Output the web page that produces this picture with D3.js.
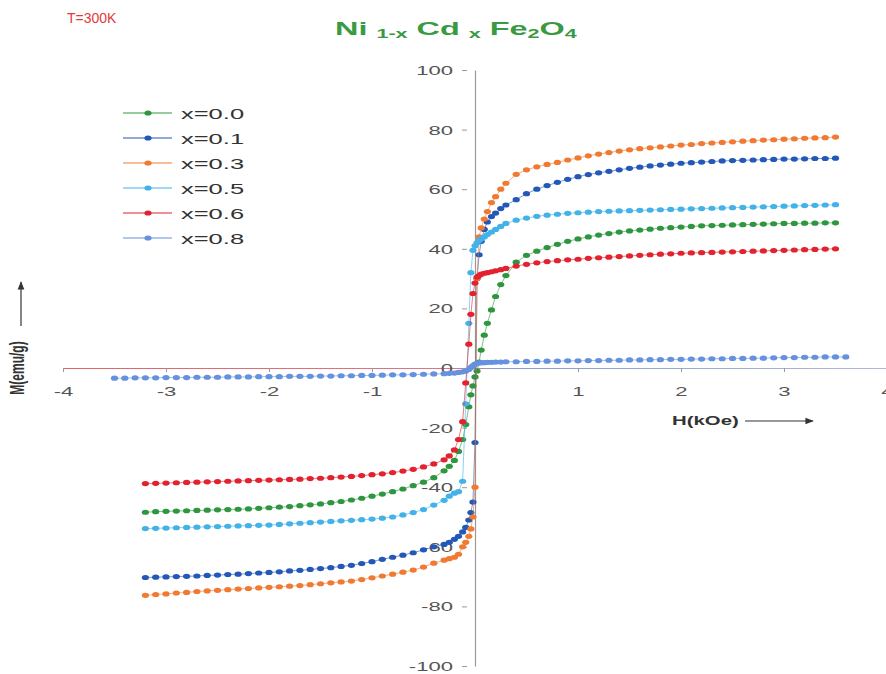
<!DOCTYPE html>
<html>
<head>
<meta charset="utf-8">
<script src="https://cdn.jsdelivr.net/npm/d3@7"></script>
<style>
  body { margin: 0; background: #fff; }
  text { font-family: "Liberation Sans", Arial, sans-serif; }
</style>
</head>
<body>
<div id="chart"></div>
<script>
// applied field H (kOe), shared by every series
const field = [
  -3.5, -3.4, -3.3, -3.2, -3.1, -3.0, -2.9, -2.8, -2.7, -2.6, -2.5, -2.4, -2.3, -2.2, -2.1, -2.0, -1.9,
  -1.8, -1.7, -1.6, -1.5, -1.4, -1.3, -1.2, -1.1, -1.0, -0.9, -0.8, -0.7, -0.6, -0.5, -0.4, -0.3,
  -0.25, -0.2, -0.16, -0.12, -0.09, -0.06, -0.04, -0.02, 0, 0.02, 0.04, 0.06, 0.09, 0.12, 0.16, 0.2, 0.25,
  0.3, 0.4, 0.5, 0.6, 0.7, 0.8, 0.9, 1.0, 1.1, 1.2, 1.3, 1.4, 1.5, 1.6, 1.7, 1.8, 1.9,
  2.0, 2.1, 2.2, 2.3, 2.4, 2.5, 2.6, 2.7, 2.8, 2.9, 3.0, 3.1, 3.2, 3.3, 3.4, 3.5, 3.6
];

// magnetisation M (emu/g) for each Cd content
const mX00 = [
  null, null, null, -48.4, -48.2, -48.1, -48.0, -47.9, -47.8, -47.7, -47.6, -47.5, -47.4, -47.3, -47.1, -46.9, -46.7,
  -46.5, -46.2, -45.9, -45.6, -45.2, -44.8, -44.3, -43.7, -43.0, -42.3, -41.5, -40.6, -39.5, -38.3, -36.8, -34.5,
  -33, -31, -28, -24, -19, -13, -9, -6, -3, -1, 2, 6, 11, 15, 19.5, 24, 28,
  31, 35.5, 37.8, 39.2, 40.4, 41.5, 42.5, 43.3, 44, 44.6, 45.1, 45.6, 46, 46.3, 46.6, 46.9, 47.1,
  47.3, 47.5, 47.7, 47.8, 47.9, 48, 48.1, 48.2, 48.3, 48.4, 48.5, 48.5, 48.6, 48.6, 48.7, 48.7, null
];
const mX01 = [
  null, null, null, -70.3, -70.2, -70.1, -70.0, -69.9, -69.8, -69.6, -69.5, -69.3, -69.2, -69.0, -68.8, -68.6, -68.4,
  -68.1, -67.9, -67.6, -67.3, -67.0, -66.6, -66.2, -65.6, -65.0, -64.2, -63.5, -62.8, -62.0, -61.0, -60.0, -59.2,
  -58.5, -57.5, -56.5, -55, -53.5, -51, -48.5, -45, -25, 30, 38, 42.5, 46.5, 49, 50.8, 52, 53.5,
  54.7, 56.5, 58.5, 60, 61.2, 62.3, 63.3, 64.2, 64.9, 65.5, 66, 66.5, 67, 67.4, 67.8, 68.1, 68.4,
  68.7, 68.9, 69.1, 69.3, 69.5, 69.6, 69.7, 69.8, 69.9, 70, 70.1, 70.1, 70.2, 70.3, 70.3, 70.4, null
];
const mX03 = [
  null, null, null, -76.3, -76.0, -75.8, -75.5, -75.3, -75.0, -74.8, -74.6, -74.4, -74.2, -74.0, -73.8, -73.6, -73.4,
  -73.2, -73.0, -72.7, -72.4, -72.1, -71.8, -71.5, -71.0, -70.4, -69.8, -69.2, -68.5, -67.8, -66.8, -65.5, -64.5,
  -64.0, -63.5, -62.5, -60.0, -58.5, -56.5, -54, -50, -40, 30, 44, 47, 50, 52.5, 55.5, 57.5, 60,
  62, 65, 66.5, 67.5, 68.3, 69, 69.8, 70.5, 71.2, 71.8, 72.3, 72.8, 73.2, 73.6, 73.9, 74.2, 74.5,
  74.8, 75, 75.3, 75.5, 75.7, 75.9, 76.1, 76.3, 76.5, 76.6, 76.8, 76.9, 77.1, 77.2, 77.3, 77.5, null
];
const mX05 = [
  null, null, null, -53.9, -53.8, -53.7, -53.6, -53.5, -53.4, -53.3, -53.2, -53.1, -53.0, -52.9, -52.8, -52.7, -52.5,
  -52.3, -52.1, -51.9, -51.7, -51.5, -51.3, -51.1, -50.9, -50.7, -50.4, -50.0, -49.3, -48.5, -47.5, -46.0, -44.4,
  -43, -42, -41.5, -38, -12, 15, 32, 39.5, 41, 42, 42.8, 43.3, 44, 44.8, 45.6, 46.5, 47.5,
  48.5, 49.6, 50.3, 50.9, 51.3, 51.6, 51.9, 52.1, 52.3, 52.5, 52.6, 52.7, 52.8, 52.9, 53, 53.1, 53.2,
  53.3, 53.4, 53.5, 53.6, 53.7, 53.8, 53.9, 54, 54.1, 54.2, 54.3, 54.4, 54.5, 54.6, 54.7, 54.8, null
];
const mX06 = [
  null, null, null, -38.8, -38.7, -38.6, -38.5, -38.4, -38.3, -38.2, -38.1, -38.0, -37.9, -37.8, -37.7, -37.6, -37.5,
  -37.4, -37.3, -37.1, -37.0, -36.8, -36.6, -36.4, -36.1, -35.8, -35.5, -35.1, -34.6, -34.0, -33.2, -32.2, -30.8,
  -29.5, -27.5, -24, -18, -5, 8, 18, 25, 28.5, 30.5, 31, 31.5, 31.8, 32, 32.3, 32.6, 33,
  33.4, 34.2, 34.8, 35.3, 35.7, 36, 36.3, 36.5, 36.8, 37, 37.2, 37.4, 37.6, 37.8, 38, 38.2, 38.3,
  38.5, 38.6, 38.7, 38.8, 38.9, 39, 39.1, 39.2, 39.3, 39.4, 39.5, 39.6, 39.7, 39.8, 39.9, 40, null
];
const mX08 = [
  -3.4, -3.4, -3.3, -3.3, -3.3, -3.2, -3.2, -3.2, -3.1, -3.1, -3.1, -3.0, -3.0, -3.0, -2.9, -2.9, -2.9,
  -2.8, -2.8, -2.8, -2.7, -2.7, -2.6, -2.6, -2.5, -2.5, -2.4, -2.3, -2.3, -2.2, -2.1, -2.0, -1.9,
  -1.8, -1.7, -1.5, -1.3, -1.0, -0.5, 0.2, 0.8, 1.3, 1.6, 1.7, 1.8, 1.8, 1.9, 1.9, 2.0, 2.0,
  2.1, 2.1, 2.2, 2.2, 2.3, 2.3, 2.4, 2.4, 2.5, 2.5, 2.6, 2.6, 2.7, 2.7, 2.8, 2.8, 2.9,
  2.9, 3.0, 3.0, 3.1, 3.1, 3.2, 3.2, 3.3, 3.3, 3.4, 3.5, 3.5, 3.6, 3.6, 3.7, 3.7, 3.7
];

const seriesLabels = ['x=0.0', 'x=0.1', 'x=0.3', 'x=0.5', 'x=0.6', 'x=0.8'];
const seriesValues = [mX00, mX01, mX03, mX05, mX06, mX08];
const seriesColors = ['#2f9640', '#2358b8', '#f07a32', '#42b2e8', '#e2222e', '#6592de'];

const xTicks = [-4, -3, -2, -1, 1, 2, 3, 4];
const yTicks = [-100, -80, -60, -40, -20, 0, 20, 40, 60, 80, 100];

const width = 886;
const height = 674;
const stretch = 1.7; // the source picture is widened, text looks stretched

const svg = d3.select('#chart')
  .append('svg')
  .attr('width', width)
  .attr('height', height);

const x = d3.scaleLinear().domain([-4, 4]).range([63, 887]);
const y = d3.scaleLinear().domain([-100, 100]).range([666, 70]);

// axis line gradient: reddish on the left, bluish on the right
const defs = svg.append('defs');
const grad = defs.append('linearGradient')
  .attr('id', 'xaxis-grad')
  .attr('gradientUnits', 'userSpaceOnUse')
  .attr('x1', x(-4)).attr('x2', x(4)).attr('y1', 0).attr('y2', 0);
grad.append('stop').attr('offset', '0%').attr('stop-color', '#e06666');
grad.append('stop').attr('offset', '50%').attr('stop-color', '#d87a8a');
grad.append('stop').attr('offset', '52%').attr('stop-color', '#8a9ad0');
grad.append('stop').attr('offset', '100%').attr('stop-color', '#b0b8d8');

defs.append('marker')
  .attr('id', 'arrow')
  .attr('viewBox', '0 0 10 10')
  .attr('refX', 9).attr('refY', 5)
  .attr('markerWidth', 7).attr('markerHeight', 7)
  .attr('orient', 'auto')
  .append('path')
  .attr('d', 'M0,1L10,5L0,9Z')
  .attr('fill', '#333');

// x axis through M = 0
const xAxisG = svg.append('g')
  .attr('transform', `translate(0, ${y(0)})`)
  .call(d3.axisBottom(x).tickValues(xTicks).tickSize(4).tickSizeOuter(0).tickFormat(d3.format('d')));
xAxisG.select('.domain').attr('stroke', 'url(#xaxis-grad)').attr('stroke-width', 1.2);
xAxisG.selectAll('.tick line').attr('stroke', '#999');
xAxisG.selectAll('.tick text')
  .attr('y', 0).attr('dy', 0)
  .attr('transform', `translate(0, 28) scale(${stretch}, 1)`)
  .attr('font-size', 13)
  .attr('fill', '#555')
  .text(d => (d < 0 ? '-' : '') + Math.abs(d));

// y axis through H = 0
const yAxisG = svg.append('g')
  .attr('transform', `translate(${x(0)}, 0)`)
  .call(d3.axisLeft(y).tickValues(yTicks).tickSize(5).tickSizeOuter(0).tickFormat(d3.format('d')));
yAxisG.select('.domain').attr('stroke', '#999').attr('stroke-width', 1.2);
yAxisG.selectAll('.tick line').attr('stroke', '#999').attr('transform', 'translate(-8,0)');
yAxisG.selectAll('.tick text')
  .attr('x', 0).attr('dy', '0.35em')
  .attr('transform', `translate(-22, 0) scale(${stretch}, 1)`)
  .attr('font-size', 13)
  .attr('fill', '#555')
  .text(d => (d < 0 ? '-' : '') + Math.abs(d));

// curves
const line = d3.line()
  .defined(d => d[1] !== null)
  .x(d => x(d[0]))
  .y(d => y(d[1]));

seriesValues.forEach((vals, i) => {
  const pts = field.map((h, j) => [h, vals[j]]);
  const g = svg.append('g').attr('class', 'series');
  g.append('path')
    .attr('d', line(pts))
    .attr('fill', 'none')
    .attr('stroke', seriesColors[i])
    .attr('stroke-width', 1)
    .attr('stroke-opacity', 0.6);
  g.selectAll('ellipse')
    .data(pts.filter(d => d[1] !== null))
    .enter()
    .append('ellipse')
    .attr('cx', d => x(d[0]))
    .attr('cy', d => y(d[1]))
    .attr('rx', 3.6)
    .attr('ry', 2.6)
    .attr('fill', seriesColors[i]);
});

// legend
const legend = svg.selectAll('.legend')
  .data(seriesLabels)
  .enter()
  .append('g')
  .attr('class', 'legend')
  .attr('transform', (d, i) => `translate(123, ${113 + i * 25})`);

legend.append('line')
  .attr('x1', 0).attr('x2', 49)
  .attr('stroke', (d, i) => seriesColors[i])
  .attr('stroke-width', 1.2);
legend.append('ellipse')
  .attr('cx', 25).attr('rx', 3.6).attr('ry', 2.6)
  .attr('fill', (d, i) => seriesColors[i]);
legend.append('text')
  .attr('transform', `translate(58, 6) scale(${stretch}, 1)`)
  .attr('font-size', 15)
  .attr('fill', '#333')
  .text(d => d);

// labels
svg.append('text')
  .attr('transform', `translate(67, 23) scale(1.0, 1)`)
  .attr('font-size', 14)
  .attr('fill', '#e03a3a')
  .text('T=300K');

const title = svg.append('text')
  .attr('transform', 'translate(335, 35) scale(1.8, 1)')
  .attr('font-size', 18)
  .attr('font-weight', 'bold')
  .attr('fill', '#3a9a44');
title.append('tspan').text('Ni ');
title.append('tspan').attr('font-size', 12).attr('dy', 3).text('1-x');
title.append('tspan').attr('dy', -3).text(' Cd ');
title.append('tspan').attr('font-size', 12).attr('dy', 3).text('x');
title.append('tspan').attr('dy', -3).text(' Fe');
title.append('tspan').attr('font-size', 12).attr('dy', 3).text('2');
title.append('tspan').attr('dy', -3).text('O');
title.append('tspan').attr('font-size', 12).attr('dy', 3).text('4');

svg.append('text')
  .attr('transform', `translate(672, 425) scale(${stretch}, 1)`)
  .attr('font-size', 12)
  .attr('font-weight', 'bold')
  .attr('fill', '#333')
  .text('H(kOe)');
svg.append('line')
  .attr('x1', 745).attr('x2', 813)
  .attr('y1', 421).attr('y2', 421)
  .attr('stroke', '#333')
  .attr('stroke-width', 1.2)
  .attr('marker-end', 'url(#arrow)');

svg.append('text')
  .attr('transform', `translate(24, 368) scale(${stretch}, 1) rotate(-90)`)
  .attr('text-anchor', 'middle')
  .attr('font-size', 12)
  .attr('font-weight', 'bold')
  .attr('fill', '#333')
  .text('M(emu/g)');
svg.append('line')
  .attr('x1', 21).attr('x2', 21)
  .attr('y1', 326).attr('y2', 282)
  .attr('stroke', '#333')
  .attr('stroke-width', 1.2)
  .attr('marker-end', 'url(#arrow)');
</script>
</body>
</html>
